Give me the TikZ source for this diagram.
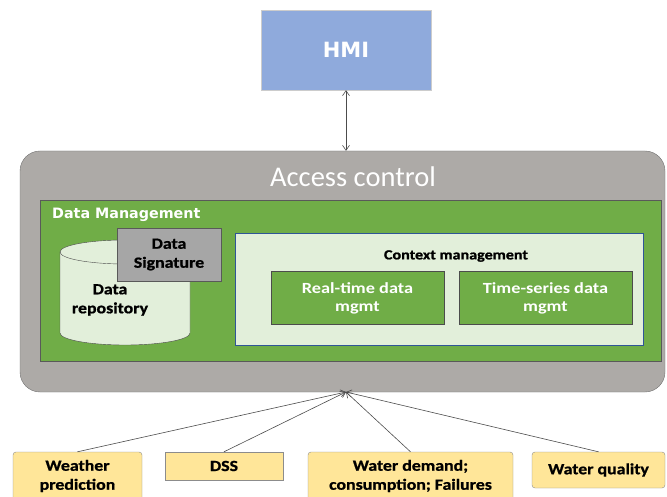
\documentclass[tikz,border=0pt]{standalone}
\usepackage{fontspec}
\setmainfont{Carlito}
\newfontfamily\dejavu{DejaVu Sans}
\newfontfamily\wide[FakeStretch=1.18]{Carlito}
\newfontfamily\heavy[FakeStretch=1.15, FakeBold=1]{Carlito}
\usetikzlibrary{arrows.meta}
\definecolor{hmiblue}{RGB}{143,170,220}
\definecolor{accgray}{RGB}{173,170,167}
\definecolor{dmgreen}{RGB}{112,173,71}
\definecolor{palegreen}{RGB}{226,239,218}
\definecolor{ctxblue}{RGB}{47,85,151}
\definecolor{siggray}{RGB}{166,166,166}
\definecolor{srcyellow}{RGB}{255,230,153}

\begin{document}
\begin{tikzpicture}[x=1pt, y=-1pt, inner sep=0pt,
    greenbox/.style={rectangle, draw=black!70, fill=dmgreen, text=white, align=center,
      font=\wide\bfseries\fontsize{15.5}{18}\selectfont},
    srcbox/.style={rectangle, rounded corners=3pt, draw=black!45, fill=srcyellow, align=center,
      font=\heavy\bfseries\fontsize{15.5}{19}\selectfont},
    link/.style={draw=black!70, line width=0.6pt, >={Straight Barb[length=5pt,width=7pt]}}]
    \useasboundingbox (0,0) rectangle (667,497);

    % Define nodes
    \node [rectangle, draw=black!20, fill=hmiblue, minimum width=170pt, minimum height=80pt,
      text=white, font=\dejavu\bfseries\fontsize{21}{23}\selectfont] (hmi) at (346,50) {HMI};
    \node [rectangle, rounded corners=20pt, draw=black!55, fill=accgray, minimum width=645pt,
      minimum height=241pt] (access) at (342.5,271.5) {};
    \node [text=white, font=\fontsize{28.5}{30}\selectfont] (acclabel) at (353,177) {Access control};
    \node [rectangle, draw=black!65, fill=dmgreen, minimum width=621pt, minimum height=161pt]
      (dm) at (350.5,280.5) {};
    \node [anchor=west, text=white, font=\dejavu\bfseries\fontsize{14.3}{16}\selectfont]
      (dmlabel) at (52,215) {Data Management};

    % data repository drum
    \path [draw=black!70, fill=palegreen] (60,252) -- (60,333)
      arc [start angle=180, end angle=0, x radius=65, y radius=12] -- (190,252)
      arc [start angle=0, end angle=-180, x radius=65, y radius=12] -- cycle;
    \draw [black!70] (60,252) arc [start angle=180, end angle=0, x radius=65, y radius=12];
    \node [align=center, font=\heavy\bfseries\fontsize{15.5}{19}\selectfont] (repo) at (110,300) {Data\\repository};

    \node [rectangle, draw=black!65, fill=siggray, minimum width=104pt, minimum height=53pt,
      align=center, font=\heavy\bfseries\fontsize{15.5}{19}\selectfont] (sig) at (169,254.5) {Data\\Signature};
    \node [rectangle, draw=ctxblue, fill=palegreen, minimum width=408pt, minimum height=112pt]
      (ctx) at (439,289) {};
    \node [font=\heavy\bfseries\fontsize{14}{16}\selectfont] (ctxlabel) at (456,256) {Context management};
    \node [greenbox, minimum width=173pt, minimum height=53pt] (rt) at (357.5,298) {Real-time data\\mgmt};
    \node [greenbox, minimum width=173pt, minimum height=53pt] (ts) at (545.5,298) {Time-series data\\mgmt};

    \node [srcbox, minimum width=129pt, minimum height=48pt] (weather) at (77.5,476) {Weather\\prediction};
    \node [srcbox, rounded corners=0pt, minimum width=118pt, minimum height=28pt] (dss) at (224,466) {DSS};
    \node [srcbox, minimum width=205pt, minimum height=48pt] (demand) at (410.5,476) {Water demand;\\consumption; Failures};
    \node [srcbox, minimum width=133pt, minimum height=36pt] (quality) at (598.5,470) {Water quality};
    \coordinate (hub) at (346,392);

    % Draw edges
    \draw [link, <->] (hmi.south -| hub) -- (access.north -| hub);
    \draw [link, ->] (weather.north) -- (hub);
    \draw [link, ->] (dss.north) -- (hub);
    \draw [link, ->] (demand.north) -- (hub);
    \draw [link, ->] (quality.north) -- (hub);
\end{tikzpicture}
\end{document}
